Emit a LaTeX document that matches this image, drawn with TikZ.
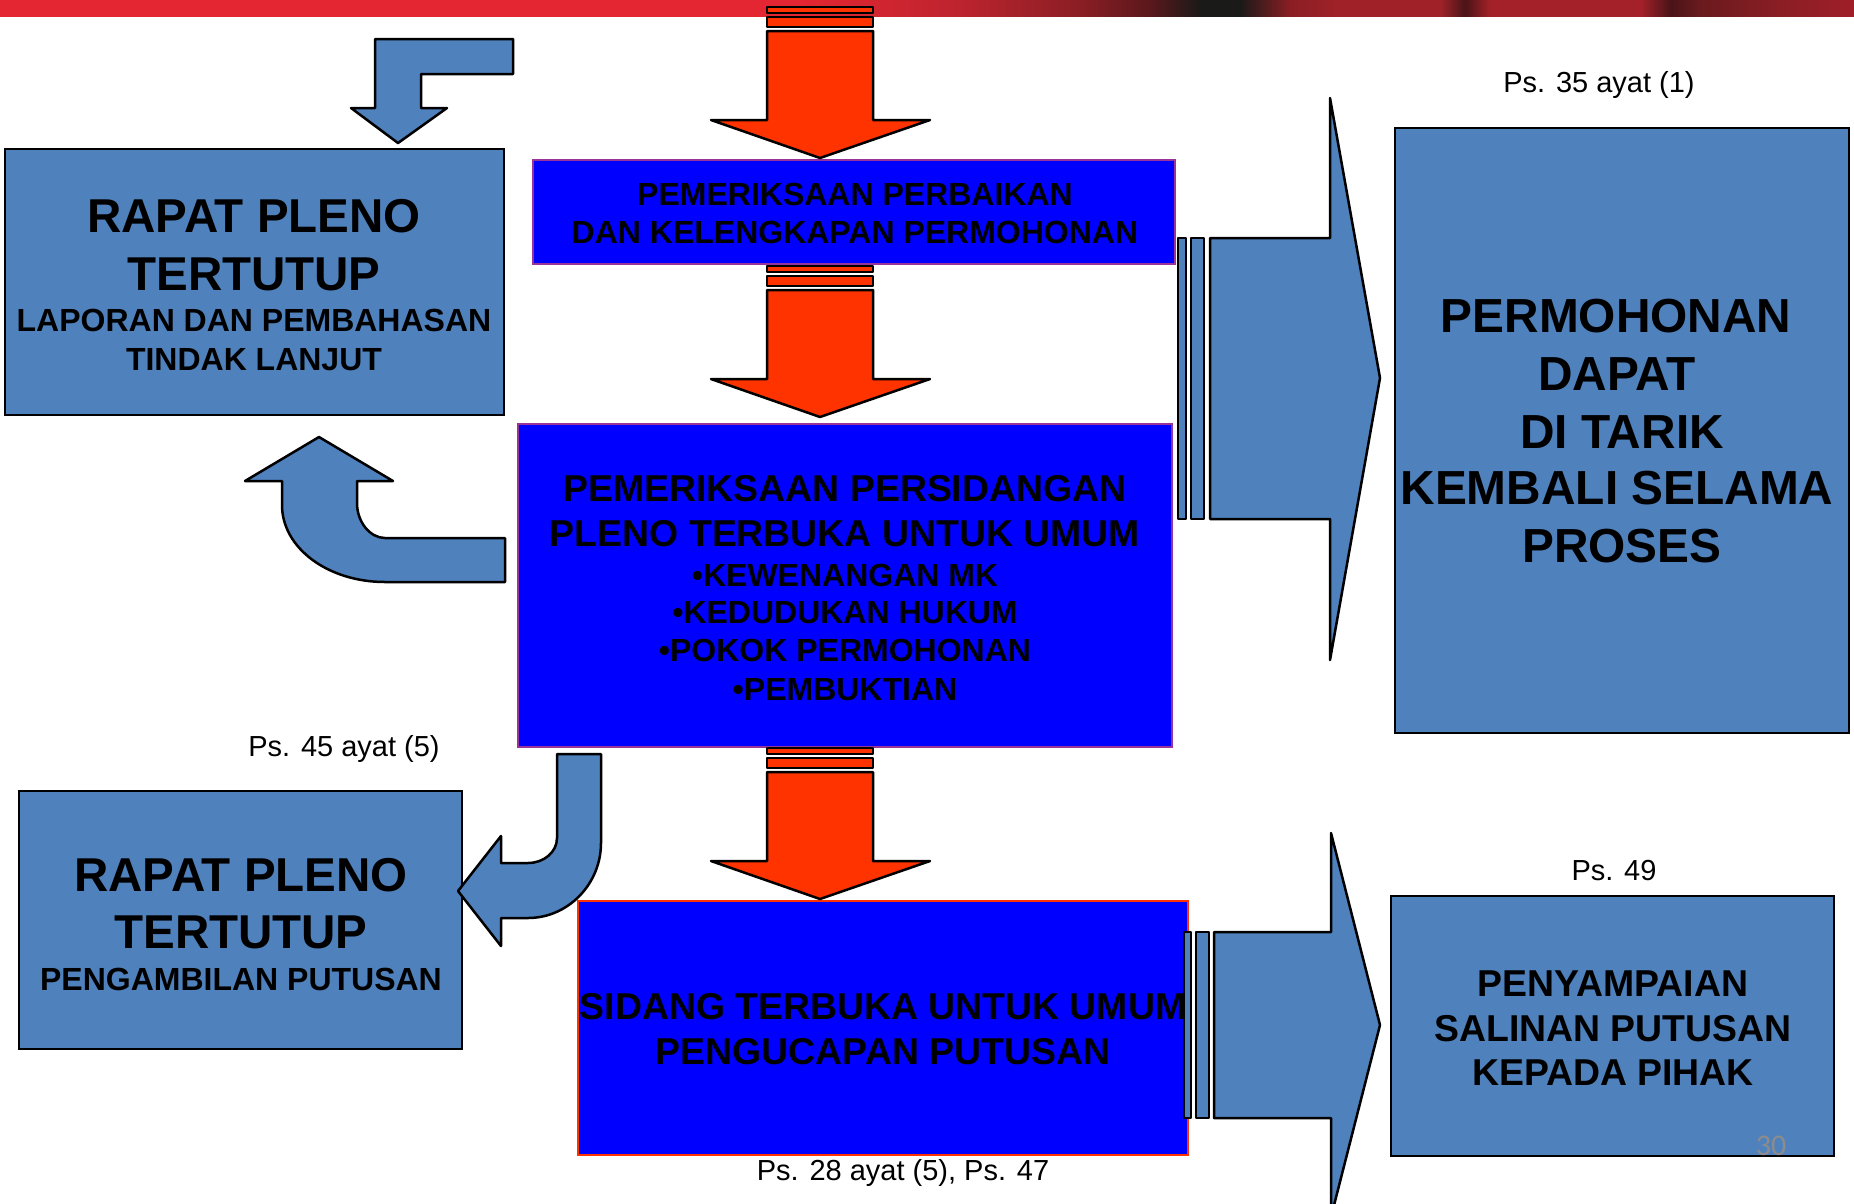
\documentclass[tikz,border=0pt]{standalone}
\usepackage{fontspec}
\setmainfont{Liberation Sans}
\newfontfamily\calib{Carlito}
\definecolor{steel}{HTML}{4F81BD}
\definecolor{arrowred}{HTML}{FF3300}
\definecolor{boxblue}{HTML}{0000FF}
\definecolor{purpleedge}{HTML}{993399}
\definecolor{orangeedge}{HTML}{FF3300}
\definecolor{barred}{HTML}{E32631}
\definecolor{barA}{HTML}{C0242F}
\definecolor{barB}{HTML}{8A1E24}
\definecolor{barC}{HTML}{5A181C}
\definecolor{barD}{HTML}{1A1A18}
\definecolor{barE}{HTML}{A02228}
\definecolor{barF}{HTML}{4A1418}
\definecolor{barG}{HTML}{A52129}
\definecolor{barH}{HTML}{6A1A1E}
\definecolor{barI}{HTML}{A01E28}
\definecolor{pagegray}{HTML}{8C8C8C}
\pgfdeclarehorizontalshading{barshade}{100bp}{color(0bp)=(barred); color(25bp)=(barred); color(46.58bp)=(barred); color(50.62bp)=(barA); color(54.13bp)=(barB); color(56.01bp)=(barC); color(57.36bp)=(barD); color(58.44bp)=(barD); color(59.79bp)=(barB); color(61.14bp)=(barE); color(63.84bp)=(barE); color(64.51bp)=(barF); color(65.18bp)=(barG); color(69.23bp)=(barG); color(70.04bp)=(barF); color(70.85bp)=(barH); color(73bp)=(barB); color(75bp)=(barI); color(100bp)=(barI)}
\tikzset{
  steelbox/.style={draw=black, line width=2.5pt, fill=steel, anchor=north west, outer sep=0pt, inner sep=0pt},
  bluebox/.style={draw=purpleedge, line width=2pt, fill=boxblue, anchor=north west, outer sep=0pt, inner sep=0pt},
  blueshape/.style={draw=black, line width=2.5pt, fill=steel, line join=round},
  redshape/.style={draw=black, line width=2.5pt, fill=arrowred, line join=round},
  bigtxt/.style={font=\fontsize{47.5}{50}\selectfont\bfseries, anchor=base, inner sep=0pt},
  hugetxt/.style={font=\fontsize{47.8}{50}\selectfont\bfseries, anchor=base, inner sep=0pt},
  midtxt/.style={font=\fontsize{37.4}{40}\selectfont\bfseries, anchor=base, inner sep=0pt},
  smalltxt/.style={font=\fontsize{32}{34}\selectfont\bfseries, anchor=base, inner sep=0pt},
  reftxt/.style={font=\fontsize{29}{32}\selectfont, anchor=base, inner sep=0pt},
}
\begin{document}
\begin{tikzpicture}[x=1pt,y=-1pt]
\clip (0,0) rectangle (1854,1203);
\fill[white] (0,0) rectangle (1854,1203);
% top bar
\path[shading=barshade] (0,0) rectangle (1854,16);

% boxes
\node[steelbox, minimum width=499, minimum height=266] (tutup1) at (5,149) {};
\node[bluebox, minimum width=642, minimum height=104] (perbaikan) at (533,160) {};
\node[bluebox, minimum width=654, minimum height=323] (sidang1) at (518,424) {};
\node[steelbox, minimum width=454, minimum height=605] (tarik) at (1395,128) {};
\node[steelbox, minimum width=443, minimum height=258] (tutup2) at (19,791) {};
\node[bluebox, draw=orangeedge, minimum width=610, minimum height=254] (putusan) at (578,901) {};
\node[steelbox, minimum width=443, minimum height=260] (salinan) at (1391,896) {};

% texts
\node[bigtxt] (t1a) at (254,232.5) {RAPAT PLENO};
\node[bigtxt] (t1b) at (254,290.5) {TERTUTUP};
\node[smalltxt] (t1c) at (254,331) {LAPORAN DAN PEMBAHASAN};
\node[smalltxt] (t1d) at (254,370) {TINDAK LANJUT};

\node[smalltxt] (t2a) at (855,205) {PEMERIKSAAN PERBAIKAN};
\node[smalltxt] (t2b) at (855,243) {DAN KELENGKAPAN PERMOHONAN};

\node[midtxt] (t3a) at (845,501) {PEMERIKSAAN PERSIDANGAN};
\node[midtxt] (t3b) at (845,546) {PLENO TERBUKA UNTUK UMUM};
\node[smalltxt] (t3c) at (845,586) {•KEWENANGAN MK};
\node[smalltxt] (t3d) at (845,623) {•KEDUDUKAN HUKUM};
\node[smalltxt] (t3e) at (845,661) {•POKOK PERMOHONAN};
\node[smalltxt] (t3f) at (845,700) {•PEMBUKTIAN};

\node[hugetxt] (t4a) at (1616,332.6) {PERMOHONAN};
\node[hugetxt] (t4b) at (1617,390.6) {DAPAT};
\node[hugetxt] (t4c) at (1622,448.6) {DI TARIK};
\node[hugetxt] (t4d) at (1617,504.6) {KEMBALI SELAMA};
\node[hugetxt] (t4e) at (1622,562.6) {PROSES};

\node[bigtxt] (t5a) at (241,891.5) {RAPAT PLENO};
\node[bigtxt] (t5b) at (241,948.5) {TERTUTUP};
\node[smalltxt] (t5c) at (241,990) {PENGAMBILAN PUTUSAN};

\node[midtxt] (t6a) at (883,1019) {SIDANG TERBUKA UNTUK UMUM};
\node[midtxt] (t6b) at (883,1064) {PENGUCAPAN PUTUSAN};

\node[midtxt] (t7a) at (1613,996) {PENYAMPAIAN};
\node[midtxt] (t7b) at (1613,1041) {SALINAN PUTUSAN};
\node[midtxt] (t7c) at (1613,1085) {KEPADA PIHAK};

\node[reftxt] (r1) at (1599,92) {Ps. 35 ayat (1)};
\node[reftxt] (r2) at (344,756) {Ps. 45 ayat (5)};
\node[reftxt] (r3) at (1614,880) {Ps. 49};
\node[reftxt] (r4) at (903,1180) {Ps. 28 ayat (5), Ps. 47};
\node[font=\calib\fontsize{30}{32}\selectfont, text=pagegray, anchor=base, inner sep=0pt] (pg) at (1771,1155) {30};

% red striped down arrows
\foreach \dy in {0,259,741}{
  \begin{scope}[shift={(0,\dy)}]
    \draw[redshape] (767,7) rectangle (873,13);
    \draw[redshape] (767,17) rectangle (873,27);
    \draw[redshape] (767,31) -- (873,31) -- (873,120) -- (930,120) -- (820,158) -- (711,120) -- (767,120) -- cycle;
  \end{scope}
}

% top-left bent arrow
\draw[blueshape] (375,39) -- (513,39) -- (513,74) -- (421,74) -- (421,108) -- (447,108) -- (398,143) -- (351,108) -- (375,108) -- cycle;

% curved arrow back up-left
\draw[blueshape] (505,538) -- (385,538) .. controls (370,538) and (357,522) .. (357,503) -- (357,481) -- (393,481) -- (319,437) -- (245,481) -- (282,481) -- (282,505) .. controls (282,548) and (328,582) .. (385,582) -- (505,582) -- cycle;

% curved arrow down-left
\draw[blueshape] (557,754) -- (601,754) -- (601,843) .. controls (601,884) and (568,918) .. (528,918) -- (501,918) -- (501,946) -- (458,891) -- (501,836) -- (501,863) -- (528,863) .. controls (544,863) and (557,852) .. (557,838) -- cycle;

% big right arrows
\draw[blueshape] (1178,238) rectangle (1186,519);
\draw[blueshape] (1191,238) rectangle (1204,519);
\draw[blueshape] (1210,238) -- (1330,238) -- (1330,98) -- (1380,378) -- (1330,660) -- (1330,519) -- (1210,519) -- cycle;

\draw[blueshape] (1184,932) rectangle (1191,1118);
\draw[blueshape] (1196,932) rectangle (1209,1118);
\draw[blueshape] (1214,932) -- (1331,932) -- (1331,833) -- (1380,1025) -- (1331,1217) -- (1331,1118) -- (1214,1118) -- cycle;
\end{tikzpicture}
\end{document}
